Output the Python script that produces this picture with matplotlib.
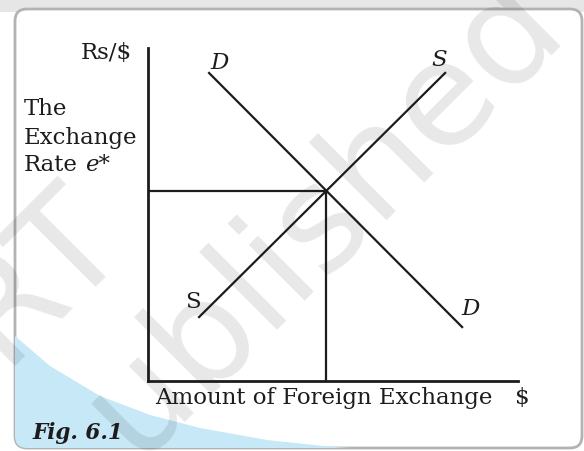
import matplotlib
matplotlib.use('Agg')
import matplotlib.pyplot as plt
from matplotlib.patches import FancyBboxPatch, Rectangle, Polygon

# demand / supply of foreign exchange (quantity, rate)
demand_q    = [1.65, 8.49]
demand_rate = [9.25, 1.62]
supply_q    = [1.38, 8.03]
supply_rate = [1.92, 9.25]
eq_q        = 4.80
eq_rate     = 5.72

ink = '#1e1b1c'

fig = plt.figure(figsize=(5.84, 4.51), dpi=100)
fig.patch.set_facecolor('white')

# background card, blue swoosh and watermark, in pixel units
bg = fig.add_axes([0, 0, 1, 1])
bg.set_xlim(0, 584)
bg.set_ylim(451, 0)
bg.axis('off')

bg.add_patch(Rectangle((0, 0), 584, 12, fc='#e6e6e6', ec='none'))
card = FancyBboxPatch((15, 9), 567, 439, boxstyle='round,pad=0,rounding_size=12',
                      fc='white', ec='#b3b3b3', lw=2.0)
bg.add_patch(card)
swoosh = Polygon([(15, 336), (50, 366), (100, 396), (150, 415), (200, 428),
                  (267, 440), (333, 447), (420, 452), (15, 452)],
                 closed=True, fc='#c6e8f7', ec='none')
bg.add_patch(swoosh)
swoosh.set_clip_path(card)

bg.text(129, 239, 'NCERT', rotation=45, rotation_mode='anchor', ha='right', va='baseline',
        fontsize=104, family='DejaVu Sans', color='k', alpha=0.095)
bg.text(135, 460, 'ublished', rotation=45, rotation_mode='anchor', ha='left', va='baseline',
        fontsize=104, family='DejaVu Sans', color='k', alpha=0.095)

bg.text(32, 433, 'Fig. 6.1', ha='left', va='center', fontsize=15.5, family='DejaVu Serif',
        weight='bold', style='italic', color=ink)

# the diagram itself
ax = fig.add_axes([148/584, 70/451, 370/584, 333/451])
ax.set_xlim(0, 10)
ax.set_ylim(0, 10)
ax.patch.set_alpha(0)
for side in ['top', 'right']:
    ax.spines[side].set_visible(False)
for side in ['left', 'bottom']:
    ax.spines[side].set_linewidth(2.0)
    ax.spines[side].set_color(ink)
    ax.spines[side].set_capstyle('projecting')
ax.set_xticks([])
ax.set_yticks([])

ax.plot(demand_q, demand_rate, color=ink, lw=1.6, clip_on=False)
ax.plot(supply_q, supply_rate, color=ink, lw=1.6, clip_on=False)
ax.plot([0, eq_q], [eq_rate, eq_rate], color=ink, lw=1.6)
ax.plot([eq_q, eq_q], [0, eq_rate], color=ink, lw=1.6)

serif = dict(family='DejaVu Serif', fontsize=16.5, color=ink, clip_on=False)
ax.text(-0.43, 9.85, 'Rs/$', ha='right', va='center', **serif)
ax.text(-3.35, 8.17, 'The', ha='left', va='center', **serif)
ax.text(-3.35, 7.30, 'Exchange', ha='left', va='center', **serif)
ax.text(-3.35, 6.49, 'Rate', ha='left', va='center', **serif)
ax.text(-1.70, 6.49, 'e*', ha='left', va='center', style='italic', **serif)

ax.text(1.92, 9.55, 'D', ha='center', va='center', style='italic', **serif)
ax.text(7.86, 9.64, 'S', ha='center', va='center', style='italic', **serif)
ax.text(1.22, 2.37, 'S', ha='center', va='center', **serif)
ax.text(8.73, 2.16, 'D', ha='center', va='center', style='italic', **serif)

ax.text(0.19, -0.51, 'Amount of Foreign Exchange', ha='left', va='center', **serif)
ax.text(10.11, -0.51, '$', ha='center', va='center', **serif)

fig.savefig('out.png', dpi=100)
